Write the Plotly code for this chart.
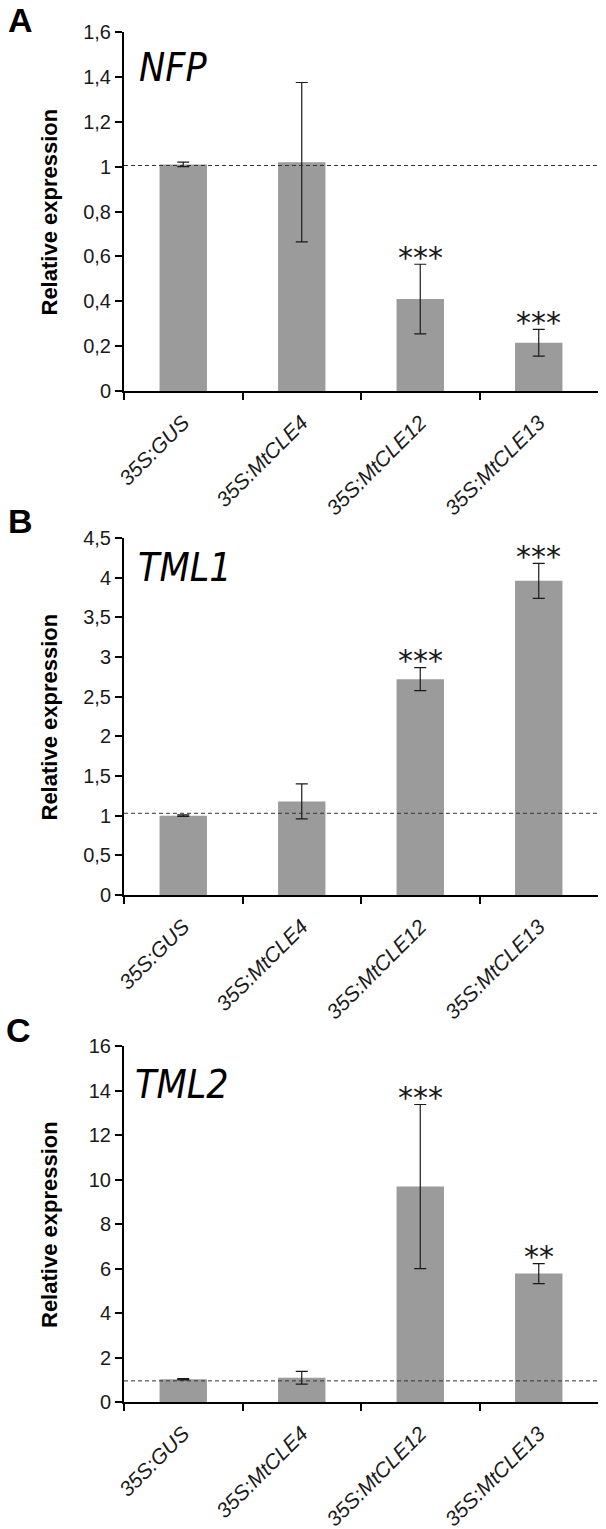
import plotly.graph_objects as go

W, H = 606, 1529

categories = ["35S:GUS", "35S:MtCLE4", "35S:MtCLE12", "35S:MtCLE13"]

genes = ["NFP", "TML1", "TML2"]
panel_letters = ["A", "B", "C"]

nfp_values = [1.01, 1.02, 0.41, 0.215]
nfp_errors = [0.01, 0.355, 0.155, 0.06]
nfp_stars = ["", "", "***", "***"]
nfp_ref = 1.005
nfp_ticks = [0, 0.2, 0.4, 0.6, 0.8, 1.0, 1.2, 1.4, 1.6]
nfp_ticktext = ["0", "0,2", "0,4", "0,6", "0,8", "1", "1,2", "1,4", "1,6"]

tml1_values = [1.0, 1.18, 2.72, 3.96]
tml1_errors = [0.01, 0.22, 0.145, 0.22]
tml1_stars = ["", "", "***", "***"]
tml1_ref = 1.03
tml1_ticks = [0, 0.5, 1.0, 1.5, 2.0, 2.5, 3.0, 3.5, 4.0, 4.5]
tml1_ticktext = ["0", "0,5", "1", "1,5", "2", "2,5", "3", "3,5", "4", "4,5"]

tml2_values = [1.02, 1.09, 9.68, 5.77]
tml2_errors = [0.03, 0.29, 3.69, 0.45]
tml2_stars = ["", "", "***", "**"]
tml2_ref = 0.95
tml2_ticks = [0, 2, 4, 6, 8, 10, 12, 14, 16]
tml2_ticktext = ["0", "2", "4", "6", "8", "10", "12", "14", "16"]

panels = [
    dict(values=nfp_values, errors=nfp_errors, stars=nfp_stars, ref=nfp_ref,
         ticks=nfp_ticks, ticktext=nfp_ticktext, top=32, bottom=391),
    dict(values=tml1_values, errors=tml1_errors, stars=tml1_stars, ref=tml1_ref,
         ticks=tml1_ticks, ticktext=tml1_ticktext, top=538, bottom=895),
    dict(values=tml2_values, errors=tml2_errors, stars=tml2_stars, ref=tml2_ref,
         ticks=tml2_ticks, ticktext=tml2_ticktext, top=1046, bottom=1402),
]

X0, X1 = 124, 598
def px(x):
    return x / W
def py(y):
    return 1 - y / H

BAR = "#9b9b9b"
INK = "#1a1a1a"
FONT = "Liberation Sans, Arial, sans-serif"

fig = go.Figure()
annotations = []
shapes = []
layout = {}

gene_pos = [(137, 67), (136, 568), (133, 1084)]
letter_pos = [(6, 20), (6, 521), (4, 1030)]

for i, p in enumerate(panels):
    n = "" if i == 0 else str(i + 1)
    xa, ya = "x" + n, "y" + n
    fig.add_trace(go.Bar(
        x=categories, y=p["values"], xaxis=xa, yaxis=ya,
        marker=dict(color=BAR, line=dict(width=0)),
        error_y=dict(type="data", array=p["errors"], visible=True,
                     color=INK, thickness=1.2, width=6),
        showlegend=False, hoverinfo="skip",
    ))
    layout["xaxis" + n] = dict(
        domain=[px(X0), px(X1)], anchor=ya, type="category", automargin=False,
        range=[-0.5, 3.5], showline=True, linecolor="#000", linewidth=2,
        ticks="outside", ticklen=7, tickwidth=1.5, tickcolor="#000",
        tickson="boundaries", tickangle=-45, ticklabelstandoff=9,
        showgrid=False, zeroline=False,
        tickfont=dict(family=FONT, size=21, color=INK, style="italic"),
    )
    layout["yaxis" + n] = dict(
        domain=[py(p["bottom"]), py(p["top"])], anchor=xa, automargin=False,
        range=[0, p["ticks"][-1]], showline=True, linecolor="#000", linewidth=2,
        ticks="outside", ticklen=7, tickwidth=1.5, tickcolor="#000",
        tickvals=p["ticks"], ticktext=p["ticktext"], showgrid=False,
        zeroline=False, tickfont=dict(family=FONT, size=20, color=INK),
    )
    shapes.append(dict(type="line", xref=xa + " domain", yref=ya,
                       x0=0, x1=1, y0=p["ref"], y1=p["ref"],
                       line=dict(color="#333", width=1, dash="4px,3px")))
    for c, v, e, s in zip(categories, p["values"], p["errors"], p["stars"]):
        if s:
            annotations.append(dict(x=c, y=v + e, xref=xa, yref=ya, text=s,
                                    showarrow=False, yanchor="middle", yshift=7,
                                    font=dict(family="DejaVu Sans", size=30, color=INK)))
    annotations.append(dict(x=px(49), y=py((p["top"] + p["bottom"]) / 2),
                            xref="paper", yref="paper", text="<b>Relative expression</b>",
                            textangle=-90, showarrow=False, xanchor="center", yanchor="middle",
                            font=dict(family=FONT, size=22, color="#000")))
    gx, gy = gene_pos[i]
    annotations.append(dict(x=px(gx), y=py(gy), xref="paper", yref="paper",
                            text="<i>" + genes[i] + "</i>", showarrow=False,
                            xanchor="left", yanchor="middle",
                            font=dict(family="DejaVu Sans Condensed, Liberation Sans, sans-serif",
                                      size=39, color="#000")))
    lx, ly = letter_pos[i]
    annotations.append(dict(x=px(lx), y=py(ly), xref="paper", yref="paper",
                            text="<b>" + panel_letters[i] + "</b>", showarrow=False,
                            xanchor="left", yanchor="middle",
                            font=dict(family=FONT, size=34, color="#000")))

fig.update_layout(
    width=W, height=H, margin=dict(l=0, r=0, t=0, b=0, autoexpand=False),
    paper_bgcolor="white", plot_bgcolor="white",
    bargap=0.6, annotations=annotations, shapes=shapes, **layout,
)
fig.write_html("out.html", config={"displayModeBar": False},
               post_script="document.body.style.margin='0px';")
